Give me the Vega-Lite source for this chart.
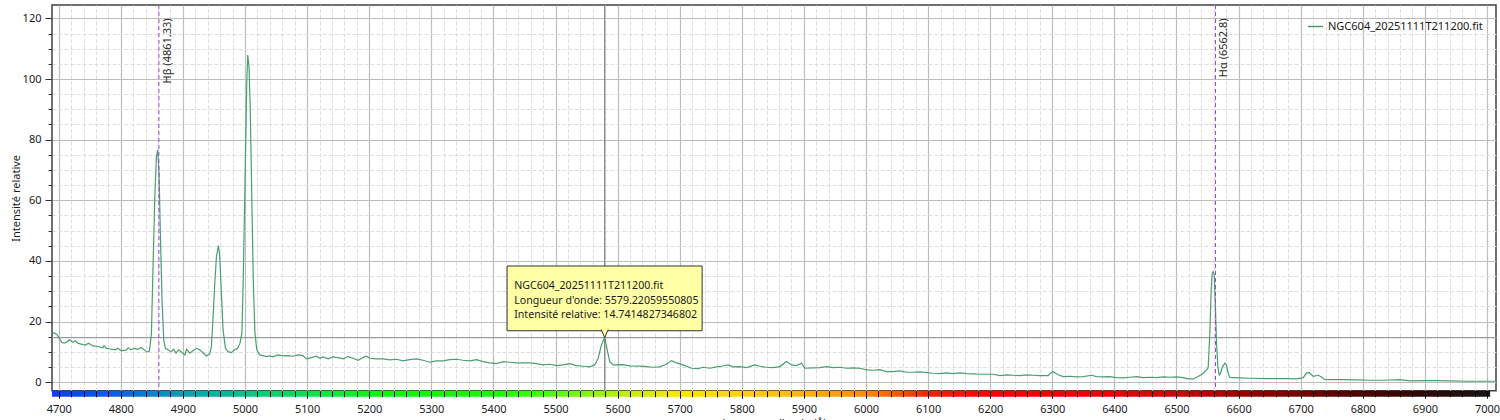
{
  "$schema": "https://vega.github.io/schema/vega-lite/v6.json",
  "width": 1444,
  "height": 385.7,
  "autosize": {"type": "none"},
  "padding": {"left": 52, "top": 5, "right": 4, "bottom": 29.3},
  "background": "white",
  "config": {
    "font": "Noto Sans",
    "view": {"stroke": "#404040", "strokeWidth": 1.5}
  },
  "datasets": {
    "spectrum": [
      {"wl":4689.2,"I":16.4},{"wl":4693,"I":16.2},{"wl":4697,"I":15.8},{"wl":4701,"I":14.5},{"wl":4705,"I":13.1},{"wl":4709,"I":12.9},{"wl":4714,"I":13.4},{"wl":4717,"I":14.0},{"wl":4723,"I":13.2},{"wl":4727,"I":13.7},{"wl":4731,"I":12.9},{"wl":4736,"I":12.6},{"wl":4743,"I":12.3},{"wl":4748,"I":12.9},{"wl":4755,"I":12.0},{"wl":4763,"I":11.8},{"wl":4771,"I":11.4},{"wl":4773,"I":12.1},{"wl":4777,"I":11.2},{"wl":4785,"I":10.9},{"wl":4791,"I":10.7},{"wl":4795,"I":11.2},{"wl":4801,"I":10.4},{"wl":4809,"I":10.7},{"wl":4812,"I":11.4},{"wl":4816,"I":10.7},{"wl":4822,"I":11.2},{"wl":4827,"I":10.9},{"wl":4833,"I":11.5},{"wl":4838,"I":10.7},{"wl":4842,"I":10.0},{"wl":4846,"I":10.2},
      {"wl":4849.3,"I":16},{"wl":4851.9,"I":38},{"wl":4854.6,"I":60},{"wl":4857.3,"I":74.4},{"wl":4859.4,"I":76.6},{"wl":4861.6,"I":69},{"wl":4863.7,"I":49},{"wl":4866.4,"I":27},{"wl":4869.1,"I":14},{"wl":4871.8,"I":11.2},
      {"wl":4876,"I":10.7},{"wl":4881,"I":10.1},{"wl":4885,"I":10.9},{"wl":4889,"I":9.6},{"wl":4893,"I":10.7},{"wl":4897,"I":10.1},{"wl":4903,"I":9.0},{"wl":4906,"I":10.9},{"wl":4911,"I":9.6},{"wl":4916,"I":10.4},{"wl":4922,"I":11.2},{"wl":4927,"I":10.7},{"wl":4933,"I":9.6},{"wl":4938,"I":8.7},{"wl":4943,"I":9.3},
      {"wl":4945.9,"I":11.8},{"wl":4948.6,"I":21.6},{"wl":4951.3,"I":32.6},{"wl":4954,"I":41.4},{"wl":4957.2,"I":45.1},{"wl":4959.4,"I":41.4},{"wl":4962,"I":29.3},{"wl":4964.7,"I":17.3},{"wl":4968.5,"I":11.2},{"wl":4972.8,"I":10.1},
      {"wl":4978,"I":9.8},{"wl":4983,"I":10.7},{"wl":4988,"I":11.2},{"wl":4992,"I":12.9},{"wl":4995,"I":16.2},{"wl":4997,"I":32.6},{"wl":5000,"I":65.6},{"wl":5002.8,"I":98.6},{"wl":5004.4,"I":107.9},{"wl":5006.5,"I":104},{"wl":5008.5,"I":89.8},{"wl":5011,"I":60.1},{"wl":5013.5,"I":32.6},{"wl":5016,"I":16.2},{"wl":5019,"I":10.7},
      {"wl":5023.7,"I":9.03},{"wl":5029.1,"I":8.81},{"wl":5034.5,"I":8.48},{"wl":5039.8,"I":8.70},{"wl":5045.2,"I":8.37},{"wl":5053.2,"I":9.03},{"wl":5061.3,"I":8.70},{"wl":5069.4,"I":8.81},{"wl":5077.4,"I":8.59},{"wl":5085.5,"I":9.03},{"wl":5093.5,"I":8.81},{"wl":5098.9,"I":7.71},{"wl":5107,"I":8.15},{"wl":5115,"I":8.59},{"wl":5120.4,"I":7.93},{"wl":5125.7,"I":8.37},{"wl":5133.8,"I":7.71},{"wl":5141.8,"I":8.37},{"wl":5149.9,"I":8.15},{"wl":5157.9,"I":7.71},{"wl":5166,"I":8.48},{"wl":5174,"I":7.93},{"wl":5182.1,"I":7.27},{"wl":5190.1,"I":8.15},{"wl":5195.5,"I":8.59},{"wl":5200.9,"I":7.93},{"wl":5211.6,"I":7.71},{"wl":5222.4,"I":7.71},{"wl":5233.1,"I":7.38},{"wl":5243.8,"I":7.60},{"wl":5254.6,"I":7.05},{"wl":5265.3,"I":7.49},{"wl":5276,"I":7.71},{"wl":5286.8,"I":7.27},{"wl":5297.5,"I":6.61},{"wl":5308.3,"I":7.05},{"wl":5319,"I":7.05},{"wl":5329.7,"I":7.49},{"wl":5340.5,"I":7.60},{"wl":5351.2,"I":7.27},{"wl":5362,"I":7.05},{"wl":5372.7,"I":7.49},{"wl":5383.4,"I":6.83},{"wl":5394.2,"I":6.39},{"wl":5404.9,"I":6.17},{"wl":5415.6,"I":6.83},{"wl":5426.4,"I":6.61},{"wl":5437.1,"I":6.39},{"wl":5447.9,"I":6.39},{"wl":5458.6,"I":6.39},{"wl":5469.3,"I":6.17},{"wl":5480.1,"I":5.73},{"wl":5490.8,"I":5.95},{"wl":5501.5,"I":5.51},{"wl":5512.3,"I":5.73},{"wl":5523,"I":6.17},{"wl":5533.7,"I":5.51},{"wl":5544.5,"I":5.29},{"wl":5555.2,"I":5.07},{"wl":5563.3,"I":5.73},{"wl":5568.7,"I":7.93},{"wl":5574,"I":12.32},{"wl":5579.22,"I":14.74},{"wl":5582.1,"I":11.77},{"wl":5587.4,"I":6.83},{"wl":5592.8,"I":5.73},{"wl":5608.9,"I":5.84},{"wl":5619.7,"I":5.40},{"wl":5635.8,"I":5.3},
      {"wl":5646.4,"I":5.18},{"wl":5657.2,"I":4.96},{"wl":5667.9,"I":5.07},{"wl":5678.7,"I":5.95},{"wl":5686.7,"I":7.16},{"wl":5694.8,"I":6.39},{"wl":5705.5,"I":5.73},{"wl":5718.9,"I":4.63},{"wl":5729.7,"I":4.52},{"wl":5737.7,"I":4.96},{"wl":5748.4,"I":4.63},{"wl":5759.2,"I":5.07},{"wl":5767.2,"I":5.29},{"wl":5778,"I":5.73},{"wl":5786,"I":5.07},{"wl":5796.8,"I":5.18},{"wl":5807.5,"I":4.85},{"wl":5820.9,"I":5.73},{"wl":5829,"I":5.29},{"wl":5839.7,"I":4.96},{"wl":5850.5,"I":4.85},{"wl":5861.2,"I":5.18},{"wl":5871.9,"I":6.83},{"wl":5880,"I":5.73},{"wl":5888,"I":5.51},{"wl":5896.1,"I":6.28},{"wl":5901.5,"I":4.63},{"wl":5914.9,"I":4.74},{"wl":5925.6,"I":4.85},{"wl":5936.4,"I":5.18},{"wl":5947.1,"I":4.85},{"wl":5957.8,"I":4.96},{"wl":5968.6,"I":4.63},{"wl":5979.3,"I":4.74},{"wl":5990,"I":4.63},{"wl":6000.8,"I":4.08},{"wl":6011.5,"I":3.97},{"wl":6022.3,"I":4.19},{"wl":6033,"I":3.53},{"wl":6043.7,"I":3.53},{"wl":6054.5,"I":3.75},{"wl":6065.2,"I":3.31},{"wl":6075.9,"I":3.31},{"wl":6086.7,"I":3.42},{"wl":6097.4,"I":3.20},{"wl":6108.2,"I":2.98},{"wl":6118.9,"I":2.87},{"wl":6129.6,"I":3.09},{"wl":6140.4,"I":2.87},{"wl":6151.1,"I":3.09},{"wl":6161.8,"I":2.87},{"wl":6172.6,"I":2.76},{"wl":6183.3,"I":2.65},{"wl":6194,"I":2.65},{"wl":6204.8,"I":2.65},{"wl":6215.5,"I":2.21},{"wl":6226.3,"I":2.43},{"wl":6237,"I":2.32},{"wl":6247.7,"I":2.21},{"wl":6258.5,"I":2.43},{"wl":6269.2,"I":2.32},{"wl":6279.9,"I":2.21},{"wl":6293.4,"I":2.21},{"wl":6297.5,"I":3.1},{"wl":6301.5,"I":3.5},{"wl":6305.5,"I":3.0},{"wl":6309.5,"I":2.5},
      {"wl":6317.6,"I":1.88},{"wl":6328.3,"I":1.99},{"wl":6339.1,"I":1.77},{"wl":6349.8,"I":1.88},{"wl":6363.2,"I":2.32},{"wl":6371.3,"I":1.88},{"wl":6382,"I":1.77},{"wl":6392.7,"I":1.88},{"wl":6403.5,"I":1.55},{"wl":6414.2,"I":1.44},{"wl":6425,"I":1.66},{"wl":6435.7,"I":1.88},{"wl":6446.4,"I":1.55},{"wl":6457.2,"I":1.66},{"wl":6467.9,"I":1.55},{"wl":6478.6,"I":1.77},{"wl":6489.4,"I":1.66},{"wl":6500.1,"I":1.77},{"wl":6510.8,"I":1.55},{"wl":6518.9,"I":1.11},{"wl":6526.9,"I":1.11},{"wl":6535,"I":1.88},{"wl":6543.1,"I":2.98},{"wl":6548.4,"I":4.08},{"wl":6551,"I":4.8},
      {"wl":6553.7,"I":16.2},{"wl":6555.9,"I":30.4},{"wl":6557.5,"I":35.9},{"wl":6559.1,"I":36.5},{"wl":6560.7,"I":35.7},{"wl":6562.3,"I":27.1},{"wl":6564.5,"I":12.9},{"wl":6566.6,"I":5.1},{"wl":6568.8,"I":2.4},{"wl":6570.9,"I":3.0},{"wl":6574.1,"I":5.1},{"wl":6577.9,"I":6.3},{"wl":6580.6,"I":5.7},{"wl":6583.2,"I":3.0},{"wl":6585.9,"I":1.6},
      {"wl":6591.4,"I":1.55},{"wl":6602.1,"I":1.44},{"wl":6618.2,"I":1.33},{"wl":6645.1,"I":1.22},{"wl":6671.9,"I":1.22},{"wl":6693.4,"I":1.11},{"wl":6704.1,"I":1.55},{"wl":6709.5,"I":3.09},{"wl":6713.8,"I":3.2},{"wl":6720.2,"I":1.99},{"wl":6728.3,"I":2.32},{"wl":6733.6,"I":1.77},{"wl":6739,"I":0.89},{"wl":6752.4,"I":0.89},{"wl":6768.5,"I":0.89},{"wl":6790,"I":0.78},{"wl":6811.5,"I":0.67},{"wl":6832.9,"I":0.67},{"wl":6859.8,"I":0.89},{"wl":6875.9,"I":0.45},{"wl":6897.4,"I":0.56},{"wl":6918.9,"I":0.56},{"wl":6940.3,"I":0.45},{"wl":6967.2,"I":0.34},{"wl":6994,"I":0.34},{"wl":7014.5,"I":0.34}
    ],
    "lines": [
      {"wl": 4861.33, "label": "Hβ (4861.33)"},
      {"wl": 6562.8, "label": "Hα (6562.8)"}
    ],
    "cursor": [
      {"wl": 5579.22059550805, "I": 14.7414827346802}
    ],
    "one": [{}]
  },
  "resolve": {"axis": {"x": "independent", "y": "independent"}},
  "layer": [
    {
      "data": {"name": "cursor"},
      "mark": {"type": "rule", "color": "#9c9c9c", "strokeWidth": 1.4},
      "encoding": {
        "y": {"field": "I", "type": "quantitative",
          "scale": {"domain": [-2.77, 124.4], "nice": false, "zero": false},
          "axis": {"orient": "left", "values": [5,10,15,25,30,35,45,50,55,65,70,75,85,90,95,105,110,115],
            "grid": true, "gridColor": "#dedede", "gridDash": [4,2], "gridWidth": 1,
            "ticks": true, "tickSize": 4, "tickColor": "#333333", "labels": false, "domain": false, "title": null}}
      }
    },
    {
      "data": {"name": "cursor"},
      "mark": {"type": "rule", "color": "#8c8c8c", "strokeWidth": 1.4},
      "encoding": {
        "x": {"field": "wl", "type": "quantitative",
          "scale": {"domain": [4689.2, 7014.5], "nice": false, "zero": false},
          "axis": {"orient": "bottom", "values": [4720,4740,4760,4780,4820,4840,4860,4880,4920,4940,4960,4980,5020,5040,5060,5080,5120,5140,5160,5180,5220,5240,5260,5280,5320,5340,5360,5380,5420,5440,5460,5480,5520,5540,5560,5580,5620,5640,5660,5680,5720,5740,5760,5780,5820,5840,5860,5880,5920,5940,5960,5980,6020,6040,6060,6080,6120,6140,6160,6180,6220,6240,6260,6280,6320,6340,6360,6380,6420,6440,6460,6480,6520,6540,6560,6580,6620,6640,6660,6680,6720,6740,6760,6780,6820,6840,6860,6880,6920,6940,6960,6980],
            "grid": true, "gridColor": "#dedede", "gridDash": [4,2], "gridWidth": 1,
            "ticks": false, "labels": false, "domain": false, "title": null, "zindex": 0}}
      }
    },
    {
      "data": {"name": "one"},
      "mark": {"type": "rect", "fill": {"gradient": "linear", "x1": 0, "x2": 1, "y1": 0, "y2": 0, "stops": [
        {"offset": 0, "color": "#0a3cff"},
        {"offset": 0.048, "color": "#0a64e6"},
        {"offset": 0.091, "color": "#0aa0b4"},
        {"offset": 0.134, "color": "#00c48c"},
        {"offset": 0.177, "color": "#00e650"},
        {"offset": 0.221, "color": "#00fa14"},
        {"offset": 0.307, "color": "#10ff00"},
        {"offset": 0.350, "color": "#50ff00"},
        {"offset": 0.393, "color": "#b4f000"},
        {"offset": 0.437, "color": "#ffe600"},
        {"offset": 0.480, "color": "#ffd200"},
        {"offset": 0.523, "color": "#ffb400"},
        {"offset": 0.566, "color": "#ff8c00"},
        {"offset": 0.609, "color": "#ff2000"},
        {"offset": 0.652, "color": "#ff0000"},
        {"offset": 0.739, "color": "#f00000"},
        {"offset": 0.782, "color": "#d80000"},
        {"offset": 0.825, "color": "#a00000"},
        {"offset": 0.868, "color": "#780000"},
        {"offset": 0.911, "color": "#500000"},
        {"offset": 0.955, "color": "#300808"},
        {"offset": 1, "color": "#141414"}
      ]}},
      "encoding": {
        "x": {"datum": 4689.2, "type": "quantitative", "scale": {"domain": [4689.2, 7014.5], "nice": false, "zero": false}, "axis": null},
        "x2": {"datum": 7005},
        "y": {"datum": -2.77, "type": "quantitative", "scale": {"domain": [-2.77, 124.4], "nice": false, "zero": false}, "axis": null},
        "y2": {"datum": -4.75}
      }
    },
    {
      "data": {"name": "spectrum"},
      "mark": {"type": "line", "strokeWidth": 1.2, "interpolate": "linear"},
      "encoding": {
        "x": {"field": "wl", "type": "quantitative",
          "scale": {"domain": [4689.2, 7014.5], "nice": false, "zero": false},
          "axis": {"orient": "bottom", "values": [4700,4800,4900,5000,5100,5200,5300,5400,5500,5600,5700,5800,5900,6000,6100,6200,6300,6400,6500,6600,6700,6800,6900,7000],
            "grid": true, "gridColor": "#bdbdbd", "gridWidth": 1.2,
            "ticks": false, "labels": false, "domain": false, "title": null, "zindex": 0}},
        "y": {"field": "I", "type": "quantitative",
          "scale": {"domain": [-2.77, 124.4], "nice": false, "zero": false},
          "axis": {"orient": "left", "values": [0,20,40,60,80,100,120], "format": "d",
            "grid": true, "gridColor": "#bdbdbd", "gridWidth": 1.2,
            "ticks": true, "tickSize": 7, "tickColor": "#333333", "tickWidth": 1,
            "labels": true, "labelFontSize": 11, "labelColor": "#1a1a1a", "labelPadding": 4,
            "domain": false,
            "title": "Intensité relative", "titleFontSize": 11, "titleFontWeight": "normal", "titleColor": "#1a1a1a", "titlePadding": 1}},
        "stroke": {"datum": "NGC604_20251111T211200.fit", "type": "nominal",
          "scale": {"range": ["#4a9e72"]},
          "legend": {"orient": "top-right", "title": null, "symbolType": "stroke", "symbolSize": 225, "symbolStrokeWidth": 1.5,
            "labelFontSize": 11, "labelColor": "#1a1a1a", "labelOffset": 4, "offset": 13, "padding": 0}}
      }
    },
    {
      "data": {"name": "lines"},
      "mark": {"type": "rule", "color": "#a040e8", "strokeWidth": 1, "strokeDash": [4, 3]},
      "encoding": {
        "x": {"field": "wl", "type": "quantitative", "scale": {"domain": [4689.2, 7014.5], "nice": false, "zero": false}, "axis": null}
      }
    },
    {
      "data": {"name": "lines"},
      "mark": {"type": "text", "angle": 270, "align": "right", "baseline": "top", "dy": 3, "fontSize": 11, "color": "#2a2a2a"},
      "encoding": {
        "x": {"field": "wl", "type": "quantitative",
          "scale": {"domain": [4689.2, 7014.5], "nice": false, "zero": false},
          "axis": {"orient": "bottom", "values": [4700,4800,4900,5000,5100,5200,5300,5400,5500,5600,5700,5800,5900,6000,6100,6200,6300,6400,6500,6600,6700,6800,6900,7000], "format": "d",
            "grid": false, "ticks": true, "tickSize": 7.5, "tickColor": "#000000", "tickWidth": 1,
            "labels": true, "labelFontSize": 11, "labelColor": "#1a1a1a", "labelPadding": 5, "labelFlush": false, "labelOverlap": false,
            "domain": false,
            "title": "Longueur d'onde (Å)", "titleFontSize": 11, "titleFontWeight": "normal", "titleColor": "#1a1a1a", "titlePadding": 3,
            "zindex": 1}},
        "y": {"datum": 120, "type": "quantitative", "scale": {"domain": [-2.77, 124.4], "nice": false, "zero": false}, "axis": null},
        "text": {"field": "label"}
      }
    },
    {
      "data": {"name": "one"},
      "mark": {"type": "rect", "fill": "#ffffa6", "stroke": "#333333", "strokeWidth": 1},
      "encoding": {
        "x": {"datum": 5422.0, "type": "quantitative", "scale": {"domain": [4689.2, 7014.5], "nice": false, "zero": false}, "axis": null},
        "x2": {"datum": 5736.1},
        "y": {"datum": 38.35, "type": "quantitative", "scale": {"domain": [-2.77, 124.4], "nice": false, "zero": false}, "axis": null},
        "y2": {"datum": 17.0}
      }
    },
    {
      "data": {"name": "cursor"},
      "mark": {"type": "point", "shape": "M-1,-1.3L0,1L1,-1.3", "size": 49, "filled": true, "fill": "#ffffa6", "stroke": "#333333", "strokeWidth": 1, "opacity": 1},
      "encoding": {
        "x": {"field": "wl", "type": "quantitative",
          "scale": {"domain": [4689.2, 7014.5], "nice": false, "zero": false},
          "axis": {"orient": "bottom", "values": [4720,4740,4760,4780,4820,4840,4860,4880,4920,4940,4960,4980,5020,5040,5060,5080,5120,5140,5160,5180,5220,5240,5260,5280,5320,5340,5360,5380,5420,5440,5460,5480,5520,5540,5560,5580,5620,5640,5660,5680,5720,5740,5760,5780,5820,5840,5860,5880,5920,5940,5960,5980,6020,6040,6060,6080,6120,6140,6160,6180,6220,6240,6260,6280,6320,6340,6360,6380,6420,6440,6460,6480,6520,6540,6560,6580,6620,6640,6660,6680,6720,6740,6760,6780,6820,6840,6860,6880,6920,6940,6960,6980],
            "grid": false, "ticks": true, "tickSize": 6, "tickColor": "#000000", "tickWidth": 1,
            "labels": false, "domain": false, "title": null, "zindex": 1}},
        "y": {"datum": 15.9, "type": "quantitative", "scale": {"domain": [-2.77, 124.4], "nice": false, "zero": false}, "axis": null}
      }
    },
    {
      "data": {"name": "one"},
      "mark": {"type": "text", "align": "left", "baseline": "middle", "fontSize": 10.6, "lineHeight": 14.5, "color": "#1a1a1a",
        "text": ["NGC604_20251111T211200.fit", "Longueur d'onde: 5579.22059550805", "Intensité relative: 14.7414827346802"]},
      "encoding": {
        "x": {"datum": 5433.5, "type": "quantitative", "scale": {"domain": [4689.2, 7014.5], "nice": false, "zero": false}, "axis": null},
        "y": {"datum": 31.6, "type": "quantitative", "scale": {"domain": [-2.77, 124.4], "nice": false, "zero": false}, "axis": null}
      }
    }
  ]
}
